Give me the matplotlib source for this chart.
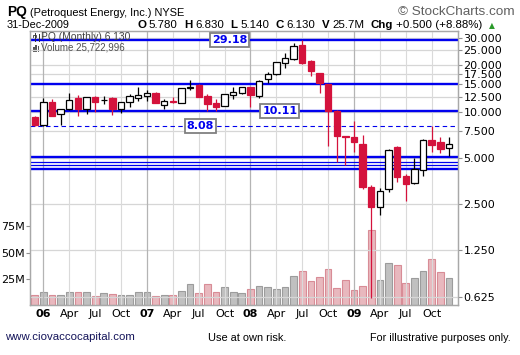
import numpy as np
import matplotlib
matplotlib.use("Agg")
import matplotlib.pyplot as plt
from matplotlib.ticker import NullLocator, NullFormatter
from matplotlib.patches import Rectangle
from matplotlib.lines import Line2D

# monthly candles, Dec 2005 .. Dec 2009
opens = [9.17, 8.2, 11.6, 9.6, 10.33, 12.24, 10.43, 12.5, 11.85, 12.3, 10.33, 11.47,
         12.3, 12.6, 13.2, 10.97, 11.75, 11.4, 14.3, 14.87, 12.6, 11.4, 10.86, 12.8,
         13.13, 14.37, 12.67, 16.34, 17.45, 20.77, 21.85, 27.05, 21.29, 17.72, 15.09, 10.11,
         6.9, 6.8, 6.14, 3.22, 2.39, 3.12, 5.85, 3.83, 3.45, 4.17, 6.53, 6.36, 5.78]
highs = [9.3, 12.2, 12.05, 10.4, 13.2, 12.8, 12.4, 12.6, 12.6, 12.4, 11.6, 12.94,
         14.4, 13.9, 13.3, 12.0, 12.5, 14.2, 16.0, 15.0, 13.0, 12.05, 13.1, 14.5,
         14.4, 14.4, 16.0, 18.14, 21.0, 23.9, 28.0, 29.18, 21.5, 17.8, 15.2, 10.2,
         6.95, 8.71, 7.04, 3.33, 3.16, 5.7, 5.96, 3.92, 4.96, 6.6, 8.08, 6.86, 6.83]
lows = [8.08, 8.1, 9.3, 8.2, 10.2, 9.4, 9.7, 10.0, 11.2, 9.5, 9.8, 10.75,
        11.7, 11.75, 11.3, 10.33, 11.4, 11.3, 13.9, 12.4, 10.07, 10.1, 10.8, 12.1,
        13.1, 10.66, 12.3, 15.25, 17.3, 19.26, 21.5, 20.5, 17.0, 13.13, 5.96, 4.72,
        4.49, 5.49, 3.12, 0.61, 2.13, 3.0, 3.5, 2.62, 3.4, 3.81, 5.49, 5.36, 5.14]
closes = [8.17, 11.47, 9.35, 10.33, 11.83, 10.33, 12.37, 11.6, 11.9, 10.33, 11.53, 12.61,
          12.8, 13.2, 11.4, 11.7, 11.47, 14.15, 14.4, 12.48, 11.14, 10.75, 13.0, 13.38,
          14.37, 12.8, 15.85, 17.45, 20.87, 22.17, 26.78, 20.77, 18.42, 15.38, 10.11, 6.93,
          6.8, 6.36, 3.24, 2.41, 3.04, 5.63, 3.73, 3.36, 4.22, 6.53, 6.05, 5.68, 6.13]
volumes_m = [9.2, 12, 9.2, 9.2, 12, 12, 12, 8.2, 11, 10.1, 9.2, 9.2,
             12, 12, 8.2, 9.2, 9.2, 13, 20.3, 11.7, 20.3, 12.7, 17.5, 12.7,
             11.7, 15.6, 18.4, 17.5, 15.6, 17.5, 28, 32.7, 23.2, 27, 34.6, 16.5,
             24.1, 14.6, 18.4, 71, 24.1, 40.4, 38.5, 21.3, 26, 32.7, 44.2, 31.8, 25.7]

month_ticks = [1, 4, 7, 10, 13, 16, 19, 22, 25, 28, 31, 34, 37, 40, 43, 46]
month_labels = ['06', 'Apr', 'Jul', 'Oct', '07', 'Apr', 'Jul', 'Oct',
                '08', 'Apr', 'Jul', 'Oct', '09', 'Apr', 'Jul', 'Oct']
price_levels = [30, 25, 20, 17.5, 15, 12.5, 10, 7.5, 5, 2.5, 1.25, 0.625]
vol_levels = [25e6, 50e6, 75e6]
vol_labels = ['25M', '50M', '75M']

thick_lines = [29.18, 15.0, 10.11, 5.05, 4.25]
thin_lines = [4.68, 4.49]
dashed_line = 8.08

RED = '#d4123c'
BLUE = '#0000ee'
SANS = ['Liberation Sans', 'DejaVu Sans']

o = np.array(opens); h = np.array(highs); l = np.array(lows); c = np.array(closes)
v = np.array(volumes_m) * 1e6
x = np.arange(len(o))
prev = np.r_[o[0], c[:-1]]
down = c < prev

W, H = 520, 355
fig = plt.figure(figsize=(W / 100, H / 100), dpi=100)
fig.patch.set_facecolor('white')
renderer = fig.canvas.get_renderer()
ax = fig.add_axes([30 / W, 50 / H, 428 / W, 274 / H])
axv = ax.twinx()
ax.set_zorder(axv.get_zorder() + 1)
ax.patch.set_visible(False)
axv.patch.set_visible(True)
axv.patch.set_facecolor('white')

# volume
axv.bar(x, v, width=0.78, color=np.where(down, '#e8b8be', '#c0c0c0'),
        edgecolor=np.where(down, '#d88c96', '#9c9c9c'), linewidth=0.8, zorder=1)
axv.set_ylim(0, 261e6)
axv.yaxis.tick_left()
axv.set_yticks(vol_levels)
axv.set_yticklabels(vol_labels)
axv.tick_params(axis='y', length=3, width=0.8, color='#909090', labelsize=8, pad=1)

# price
ax.set_yscale('log')
ax.set_ylim(0.552, 33.4)
ax.set_xlim(-0.55, 49.05)
for lv in price_levels:
    ax.axhline(lv, color='#d6d6d6', lw=0.9, zorder=0)
for t, lab in zip(month_ticks, month_labels):
    yr = lab.isdigit()
    ax.axvline(t, color='#b4b4b4' if yr else '#dadada', lw=0.9 if yr else 0.8, zorder=0)

for yv in thick_lines:
    ax.axhline(yv, color=BLUE, lw=1.7, zorder=2)
for yv in thin_lines:
    ax.axhline(yv, color=BLUE, lw=0.9, zorder=2)
ax.axhline(dashed_line, color=BLUE, lw=0.8, ls=(0, (4, 3)), zorder=2)

up = c >= o
wick_col = np.where(up, 'black', RED)
ax.vlines(x, l, h, colors=wick_col, lw=0.9, zorder=3)
body_lo = np.minimum(o, c)
body_h = np.maximum(np.abs(c - o), 0.02)
ax.bar(x[up], body_h[up], bottom=body_lo[up], width=0.74, color='white',
       edgecolor='black', linewidth=0.9, zorder=4)
ax.bar(x[~up], body_h[~up], bottom=body_lo[~up], width=0.74, color=RED,
       edgecolor=RED, linewidth=0.9, zorder=4)

ax.yaxis.tick_right()
ax.yaxis.set_minor_locator(NullLocator())
ax.yaxis.set_minor_formatter(NullFormatter())
ax.set_yticks(price_levels)
ax.set_yticklabels(['%.3f' % p for p in price_levels])
ax.tick_params(axis='y', length=3, width=0.8, color='#909090', labelsize=8, pad=1)
ax.set_xticks(month_ticks)
ax.set_xticklabels(month_labels)
ax.tick_params(axis='x', length=0, labelsize=8, pad=3)
for tl in ax.get_xticklabels():
    if tl.get_text().isdigit():
        tl.set_fontweight('bold')
for sp in list(ax.spines.values()) + list(axv.spines.values()):
    sp.set_color('#a8a8a8')
    sp.set_linewidth(0.9)

box = dict(boxstyle='square,pad=0.18', fc='white', ec='#808080', lw=1.3)
for xp, val in [(22.6, 29.18), (28.4, 10.11), (19.2, 8.08)]:
    ax.text(xp, val, '%.2f' % val, color=BLUE, fontsize=8, fontweight='bold',
            ha='center', va='center', bbox=box, zorder=6)


def ft(px, py, s, width=None, fs=8, **kw):
    kw.setdefault('va', 'center')
    kw.setdefault('ha', 'left')
    kw.setdefault('family', SANS)
    t = fig.text(px / W, 1 - py / H, s, fontsize=fs, **kw)
    if width:
        w = t.get_window_extent(renderer).width
        t.set_fontsize(fs * width / w)
    return t


def fx(px):
    return px / W


def fy(py):
    return 1 - py / H


# legend inside the chart, with small icons
ft(41, 37, 'PQ (Monthly) 6.130', width=89, color='#404040', zorder=5)
ft(41, 48, 'Volume 25,722,996', width=84, color='#505050', zorder=5)
fig.add_artist(Line2D([fx(34.5), fx(34.5)], [fy(33), fy(41)], color='#333333', lw=0.7))
fig.add_artist(Rectangle((fx(33), fy(39)), 3 / W, 4 / H, fc='white', ec='#333333', lw=0.6))
fig.add_artist(Line2D([fx(38.5), fx(38.5)], [fy(34), fy(41)], color='#333333', lw=0.7))
for k, top in enumerate([47, 45, 46]):
    fig.add_artist(Rectangle((fx(33 + 2.3 * k), fy(52)), 1.6 / W, (52 - top) / H,
                             color='#555555', lw=0))

ft(7, 12, 'PQ', width=20, fs=10, fontweight='bold')
ft(30, 13, '(Petroquest Energy, Inc.) NYSE', width=155)
ft(398, 12, '\u00a9 StockCharts.com', width=117, color='#606060')
ft(7, 25, '31-Dec-2009', width=63)

pieces = [('O', True), ('5.780', False), ('H', True), ('6.830', False),
          ('L', True), ('5.140', False), ('C', True), ('6.130', False),
          ('V', True), ('25.7M', False), ('Chg', True), ('+0.500 (+8.88%)', False)]


def header_row(fs):
    cur = 137
    made = []
    for s, b in pieces:
        t = ft(cur, 25, s, fs=fs, fontweight='bold' if b else 'normal')
        made.append(t)
        cur += t.get_window_extent(renderer).width + fs * (0.35 if b else 0.75)
    return made, cur


made, end = header_row(8)
for t in made:
    t.remove()
made, end = header_row(8 * (486 - 137) / (end - 137))
ft(end + 1, 26, '\u25b2', fs=5.5, color='#2a9a2a', family='DejaVu Sans')

ft(5, 337, 'www.ciovaccocapital.com', width=130, color='#14145a')
ft(208, 338, 'Use at own risk.', width=79)
ft(370, 338, 'For illustrative purposes only.', width=141)

fig.savefig('out.png', dpi=100, facecolor='white')
